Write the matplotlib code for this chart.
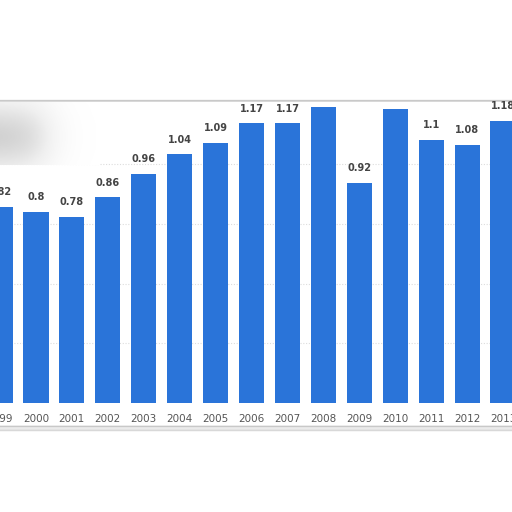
import numpy as np
import matplotlib
matplotlib.use("Agg")
import matplotlib.pyplot as plt
from matplotlib.patches import FancyBboxPatch

# values (2008 and 2010 labels are cut off at the top)
years = [1999, 2000, 2001, 2002, 2003, 2004, 2005, 2006, 2007,
         2008, 2009, 2010, 2011, 2012, 2013]
values = [0.82, 0.8, 0.78, 0.86, 0.96, 1.04, 1.09, 1.17, 1.17,
          1.24, 0.92, 1.23, 1.1, 1.08, 1.18]
labels = ["0.82", "0.8", "0.78", "0.86", "0.96", "1.04", "1.09", "1.17", "1.17",
          "1.24", "0.92", "1.23", "1.1", "1.08", "1.18"]

bar_color = "#2a74d9"

fig = plt.figure(figsize=(5.12, 5.12), dpi=100)
fig.patch.set_facecolor("white")

# rounded frame with soft shadow, cropped at the sides
for i, a in enumerate([0.06, 0.1, 0.16]):
    fig.patches.append(FancyBboxPatch((-0.1, 0.163 - i * 0.002), 1.2, 0.64,
                                      boxstyle="round,pad=0,rounding_size=0.02",
                                      transform=fig.transFigure, facecolor="none",
                                      edgecolor="#666666", lw=2.5 - i * 0.7, alpha=a, zorder=-5))
fig.patches.append(FancyBboxPatch((-0.1, 0.167), 1.2, 0.636,
                                  boxstyle="round,pad=0,rounding_size=0.02",
                                  transform=fig.transFigure, facecolor="white",
                                  edgecolor="#c8c8c8", lw=1.2, zorder=-4))

ax = fig.add_axes([0, (512 - 403) / 512, 1, (403 - 100) / 512])
ax.set_facecolor("none")
ax.bar(years, values, width=0.7, color=bar_color, zorder=3)
ax.set_xlim(1999.03, 2013.25)
ax.set_ylim(0, 1.268)

ax.set_yticks([0.25, 0.5, 0.75, 1.0])
ax.yaxis.grid(True, color="#dddddd", linestyle=(0, (1, 1.5)), lw=0.8, zorder=1)
ax.set_axisbelow(True)
ax.tick_params(axis="y", left=False, labelleft=False)
ax.set_xticks(years)
ax.set_xticklabels([str(y) for y in years], fontsize=7.5, color="#555555")
ax.tick_params(axis="x", length=0, pad=8)
for s in ax.spines.values():
    s.set_visible(False)

for x, v, t in zip(years, values, labels):
    ax.annotate(t, (x, v), xytext=(0, 7), textcoords="offset points",
                ha="center", va="bottom", fontsize=7, fontweight="bold",
                color="#444444", annotation_clip=False, clip_on=True, zorder=4)

# blurred legend box at top left
blob = fig.add_axes([0, (512 - 165) / 512, 100 / 512, 63 / 512])
gx = np.linspace(0, 1, 120)
gy = np.linspace(0, 1, 80)
X, Y = np.meshgrid(gx, gy)
img = (1 / (1 + np.exp((X - 0.45) / 0.12))) * np.exp(-((Y - 0.55) / 0.6) ** 2)
blob.imshow(img, cmap="Greys", vmin=0, vmax=3.5, aspect="auto", interpolation="bilinear")
blob.axis("off")

fig.savefig("out.png", dpi=100)
